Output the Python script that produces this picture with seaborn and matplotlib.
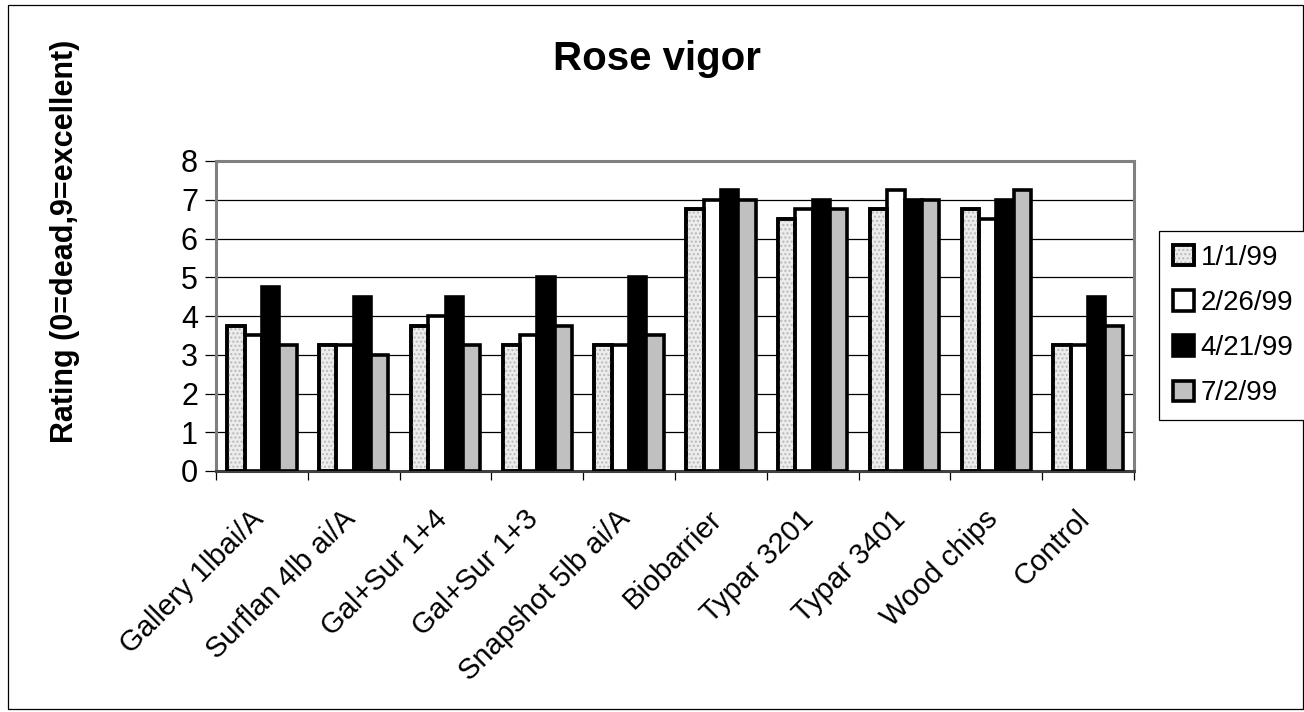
import matplotlib
matplotlib.use('Agg')
import matplotlib.pyplot as plt
import seaborn as sns
import pandas as pd
import numpy as np
from matplotlib.patches import Patch, Rectangle
from matplotlib.ticker import FixedLocator
from matplotlib.legend_handler import HandlerTuple
import matplotlib.transforms as mtransforms

treatments = ["Gallery 1lbai/A", "Surflan 4lb ai/A", "Gal+Sur 1+4", "Gal+Sur 1+3",
              "Snapshot 5lb ai/A", "Biobarrier", "Typar 3201", "Typar 3401",
              "Wood chips", "Control"]
dates = ["1/1/99", "2/26/99", "4/21/99", "7/2/99"]
r_0101 = [3.75, 3.25, 3.75, 3.25, 3.25, 6.75, 6.5, 6.75, 6.75, 3.25]
r_0226 = [3.5, 3.25, 4.0, 3.5, 3.25, 7.0, 6.75, 7.25, 6.5, 3.25]
r_0421 = [4.75, 4.5, 4.5, 5.0, 5.0, 7.25, 7.0, 7.0, 7.0, 4.5]
r_0702 = [3.25, 3.0, 3.25, 3.75, 3.5, 7.0, 6.75, 7.0, 7.25, 3.75]
yticks = [0, 1, 2, 3, 4, 5, 6, 7, 8]
colors = ['#ececec', '#ffffff', '#000000', '#c0c0c0']
dot_color = '#b8b8b8'

series = [r_0101, r_0226, r_0421, r_0702]
rows = []
for d, vals in zip(dates, series):
    for t, v in zip(treatments, vals):
        rows.append({"Treatment": t, "Date": d, "Rating": v})
df = pd.DataFrame(rows)

sns.set_theme(style='white')
plt.rcParams['font.family'] = ['Liberation Sans', 'DejaVu Sans']
for k in ['text.color', 'axes.labelcolor', 'xtick.color', 'ytick.color']:
    plt.rcParams[k] = 'black'
plt.rcParams['hatch.linewidth'] = 1.0

W, H = 1304, 712
fig = plt.figure(figsize=(W / 100, H / 100), dpi=100)
ax = fig.add_axes([216 / W, 1 - 471 / H, (1134 - 216) / W, (471 - 161) / H])

sns.barplot(data=df, x='Treatment', y='Rating', hue='Date', order=treatments,
            hue_order=dates, palette=colors, saturation=1, width=0.755,
            edgecolor='black', linewidth=2.6, errorbar=None, legend=False,
            ax=ax, zorder=3)

# dotted texture on the first series (overlay using seaborn's own bar geometry)
first = ax.containers[0]
for bar in first:
    ax.add_patch(Rectangle((bar.get_x(), bar.get_y()), bar.get_width(),
                           bar.get_height(), facecolor='none',
                           edgecolor=dot_color, linewidth=0, hatch='....',
                           zorder=3.1))
    ax.add_patch(Rectangle((bar.get_x(), bar.get_y()), bar.get_width(),
                           bar.get_height(), facecolor='none',
                           edgecolor='black', linewidth=2.6, zorder=3.2))

ax.set_ylim(0, 8)
ax.set_xlim(-0.5, len(treatments) - 0.5)
ax.set_yticks(yticks)
ax.set_yticklabels([str(v) for v in yticks])
ax.yaxis.grid(True, color='black', linewidth=0.9)
ax.xaxis.grid(False)
ax.set_axisbelow(True)
ax.set_xlabel('')
ax.set_ylabel('')

for s in ['top', 'right', 'left']:
    ax.spines[s].set_color('#808080')
    ax.spines[s].set_linewidth(2.2)
ax.spines['bottom'].set_color('#404040')
ax.spines['bottom'].set_linewidth(2.2)

ax.tick_params(axis='y', length=8, width=0.9, pad=5, labelsize=22,
               color='black', labelcolor='black', direction='out', left=True)
ax.set_xticks(range(len(treatments)))
ax.set_xticklabels(treatments, rotation=45, ha='right', va='center',
                   rotation_mode='anchor', fontsize=21, color='black')
ax.tick_params(axis='x', which='major', length=0, pad=31.5)
ax.xaxis.set_minor_locator(FixedLocator(np.arange(-0.5, len(treatments), 1)))
ax.tick_params(axis='x', which='minor', length=6.5, width=0.9, color='black',
               direction='out', bottom=True)
offset = mtransforms.ScaledTranslation(-3 / 100, 0, fig.dpi_scale_trans)
for lab in ax.get_xticklabels():
    lab.set_transform(lab.get_transform() + offset)

handles = [Patch(facecolor=c, edgecolor='black', linewidth=2.6)
           for c in colors]
handles[0] = (Patch(facecolor=colors[0], edgecolor='black', linewidth=2.6),
              Patch(facecolor='none', edgecolor=dot_color, linewidth=0,
                    hatch='....'),
              Patch(facecolor='none', edgecolor='black', linewidth=2.6))
leg = fig.legend(handles=handles, labels=dates, loc='upper left',
                 handler_map={tuple: HandlerTuple(ndivide=1, pad=0)},
                 bbox_to_anchor=(1159 / W, 1 - 231 / H),
                 bbox_transform=fig.transFigure, frameon=True, fancybox=False,
                 edgecolor='black', framealpha=1, fontsize=20,
                 handlelength=0.75, handleheight=0.75, handletextpad=0.25,
                 labelspacing=0.69, borderpad=0.5, borderaxespad=0)
leg.get_frame().set_linewidth(0.9)
for t in leg.get_texts():
    t.set_color('black')

fig.text(657 / W, 1 - 70 / H, 'Rose vigor', ha='center', va='baseline',
         fontsize=29, fontweight='bold', color='black')
fig.text(65 / W, 1 - 241 / H, 'Rating (0=dead,9=excellent)', rotation=90,
         ha='center', va='center', fontsize=22, fontweight='bold', color='black')

fig.patches.append(Rectangle((8 / W, 3 / H), (1303 - 8) / W, (708 - 4) / H,
                             transform=fig.transFigure, fill=False,
                             edgecolor='black', linewidth=0.9))

fig.savefig('out.png', dpi=100)
